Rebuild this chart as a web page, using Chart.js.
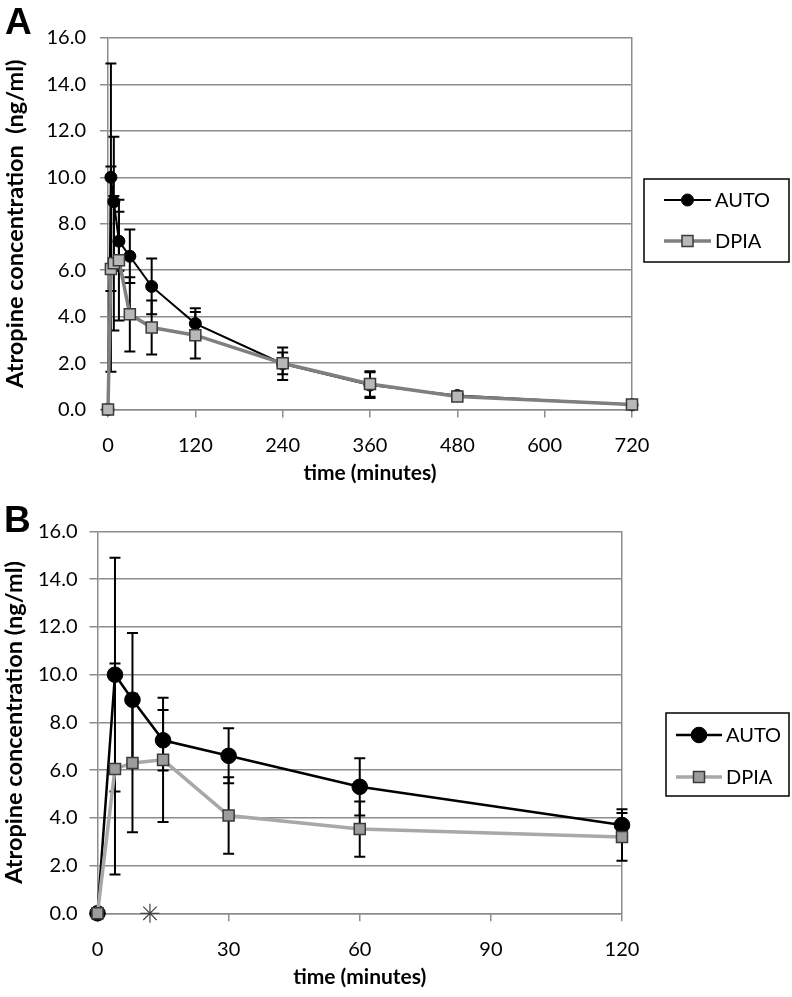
<!DOCTYPE html>
<html>
<head>
<meta charset="utf-8">
<script src="https://cdn.jsdelivr.net/npm/chart.js@4.4.0/dist/chart.umd.min.js"></script>
<style>
html,body{margin:0;padding:0;background:#fff;width:792px;height:997px;overflow:hidden;}
.panel{position:absolute;left:0;width:792px;}
#wrapA{top:0;height:497px;}
#wrapB{top:497px;height:500px;}
.letter{position:absolute;font-family:"Liberation Sans",Arial,sans-serif;font-weight:bold;font-size:37px;line-height:1;color:#000;}
</style>
</head>
<body>
<div class="panel" id="wrapA"><canvas id="chartA" width="792" height="497"></canvas></div>
<div class="panel" id="wrapB"><canvas id="chartB" width="792" height="500"></canvas></div>
<div class="letter" style="left:5px;top:3px">A</div>
<div class="letter" style="left:4px;top:501px">B</div>
<script>
// ---- data ----
const timeMin  = [0, 4, 8, 15, 30, 60, 120, 240, 360, 480, 720];
const autoConc = [0, 10.0, 8.95, 7.25, 6.6, 5.3, 3.7, 1.97, 1.05, 0.6, 0.2];
const autoSD   = [0, 4.9, 2.8, 1.27, 1.15, 1.2, 0.66, 0.7, 0.55, 0.12, 0.05];
const dpiaConc = [0, 6.05, 6.3, 6.43, 4.1, 3.53, 3.2, 1.99, 1.1, 0.56, 0.22];
const dpiaSD   = [0, 4.42, 2.9, 2.6, 1.6, 1.16, 1.0, 0.47, 0.55, 0.1, 0.05];
const sigTime  = [12];
const sigConc  = [0];
const yTicks   = [0, 2, 4, 6, 8, 10, 12, 14, 16];
const xTicksA  = [0, 120, 240, 360, 480, 600, 720];
const xTicksB  = [0, 30, 60, 90, 120];
const seriesNames = ['AUTO', 'DPIA'];
const yTitleA = 'Atropine concentration  (ng/ml)';
const yTitleB = 'Atropine concentration (ng/ml)';
const xTitle  = 'time (minutes)';

const FONT = 'Lato, "Open Sans", sans-serif';
const GRID = '#8c8c8c';

function pts(xs, ys, maxX) {
  const out = [];
  xs.forEach((x, i) => { if (x <= maxX) out.push({x: x, y: ys[i]}); });
  return out;
}
function errs(xs, es, maxX) {
  return es.filter((e, i) => xs[i] <= maxX);
}

const errorBars = {
  id: 'errorBars',
  beforeDatasetsDraw(chart) {
    const ctx = chart.ctx, xs = chart.scales.x, ys = chart.scales.y;
    ctx.save();
    ctx.strokeStyle = '#000';
    ctx.lineWidth = 2;
    chart.data.datasets.forEach(ds => {
      if (!ds.errors) return;
      ds.data.forEach((p, j) => {
        const e = ds.errors[j];
        if (!e) return;
        const px = xs.getPixelForValue(p.x);
        const yt = ys.getPixelForValue(p.y + e);
        const yb = ys.getPixelForValue(Math.max(p.y - e, 0));
        const c = 5.5;
        ctx.beginPath();
        ctx.moveTo(px, yt); ctx.lineTo(px, yb);
        ctx.moveTo(px - c, yt); ctx.lineTo(px + c, yt);
        ctx.moveTo(px - c, yb); ctx.lineTo(px + c, yb);
        ctx.stroke();
      });
    });
    ctx.restore();
  }
};

const boxLegend = {
  id: 'boxLegend',
  afterDraw(chart, args, opts) {
    const ctx = chart.ctx;
    ctx.save();
    ctx.strokeStyle = '#000';
    ctx.lineWidth = 1.5;
    ctx.strokeRect(opts.x, opts.y, opts.w, opts.h);
    const list = chart.data.datasets.filter(d => d.inLegend).sort((a, b) => a.legendIndex - b.legendIndex);
    list.forEach((ds, i) => {
      const cy = opts.rowY[i];
      ctx.strokeStyle = ds.borderColor;
      ctx.lineWidth = ds.borderWidth;
      ctx.beginPath();
      ctx.moveTo(opts.lineX0, cy); ctx.lineTo(opts.lineX1, cy);
      ctx.stroke();
      const mx = (opts.lineX0 + opts.lineX1) / 2;
      ctx.fillStyle = ds.pointBackgroundColor;
      ctx.strokeStyle = ds.pointBorderColor;
      ctx.lineWidth = ds.pointBorderWidth;
      ctx.beginPath();
      if (ds.pointStyle === 'rect') {
        const s = Math.SQRT1_2 * ds.pointRadius;
        ctx.rect(mx - s, cy - s, 2 * s, 2 * s);
      } else {
        ctx.arc(mx, cy, ds.pointRadius, 0, Math.PI * 2);
      }
      ctx.fill(); ctx.stroke();
      ctx.fillStyle = '#000';
      ctx.font = '20px ' + FONT;
      ctx.textAlign = 'left';
      ctx.textBaseline = 'middle';
      ctx.fillText(ds.label, opts.textX, cy + 1);
    });
    ctx.restore();
  }
};

function makeChart(id, cfg) {
  const maxX = cfg.xTicks[cfg.xTicks.length - 1];
  const datasets = [
    {
      label: seriesNames[0], inLegend: true, legendIndex: 0, order: 1,
      data: pts(timeMin, autoConc, maxX), errors: errs(timeMin, autoSD, maxX),
      borderColor: '#000', borderWidth: cfg.autoLW, backgroundColor: '#000',
      pointStyle: 'circle', pointRadius: cfg.circR, pointBackgroundColor: '#000',
      pointBorderColor: '#000', pointBorderWidth: 1, clip: false, tension: 0
    },
    {
      label: seriesNames[1], inLegend: true, legendIndex: 1, order: 0,
      data: pts(timeMin, dpiaConc, maxX), errors: errs(timeMin, dpiaSD, maxX),
      borderColor: cfg.dpiaLine, borderWidth: 3.5, backgroundColor: cfg.dpiaFill,
      pointStyle: 'rect', pointRadius: 7.8, pointBackgroundColor: cfg.dpiaFill,
      pointBorderColor: '#3a3a3a', pointBorderWidth: 1.5, clip: false, tension: 0
    }
  ];
  if (cfg.sig) {
    datasets.push({
      label: 'p<0.05', inLegend: false, order: 2, type: 'scatter',
      data: sigTime.map((t, i) => ({x: t, y: sigConc[i]})),
      pointStyle: 'star', pointRadius: 9.5, borderColor: '#444', pointBorderColor: '#444',
      borderWidth: 1.2, pointBorderWidth: 1.2, showLine: false, clip: false
    });
  }
  const H = cfg.height;
  return new Chart(document.getElementById(id), {
    type: 'line',
    data: { datasets: datasets },
    plugins: [errorBars, boxLegend],
    options: {
      responsive: false, animation: false, devicePixelRatio: 1,
      events: [],
      layout: { padding: { top: cfg.area.top, right: 792 - cfg.area.right, left: 0, bottom: 0 } },
      plugins: {
        legend: { display: false }, tooltip: { enabled: false },
        boxLegend: cfg.legend
      },
      scales: {
        x: {
          type: 'linear', position: 'bottom', min: 0, max: maxX,
          afterBuildTicks: s => { s.ticks = cfg.xTicks.map(v => ({value: v})); },
          afterFit: s => { s.height = H - cfg.area.bottom; },
          grid: { drawOnChartArea: false, drawTicks: true, tickLength: 8, color: GRID, lineWidth: 1.5 },
          border: { display: true, color: GRID, width: 1.5 },
          ticks: { autoSkip: false, maxRotation: 0, color: '#000', padding: cfg.xTickPad,
                   font: { family: FONT, size: 20 } },
          title: { display: true, text: xTitle, color: '#000',
                   font: { family: FONT, size: 21, weight: 'bold' },
                   padding: { top: 0, bottom: cfg.xTitlePad } }
        },
        y: {
          type: 'linear', position: 'left', min: 0, max: 16,
          afterBuildTicks: s => { s.ticks = yTicks.map(v => ({value: v})); },
          afterFit: s => { s.width = cfg.area.left; },
          grid: { drawTicks: true, tickLength: 8, color: GRID, lineWidth: 1.5 },
          border: { display: true, color: GRID, width: 1.5 },
          ticks: { color: '#000', padding: cfg.yTickPad, font: { family: FONT, size: 20 },
                   callback: v => Number(v).toFixed(1) },
          title: { display: true, text: cfg.yTitle, color: '#000',
                   font: { family: FONT, size: 23.5, weight: 'bold' },
                   padding: { top: cfg.yTitlePad, bottom: 0 } }
        },
        yR: {
          type: 'linear', position: 'right', min: 0, max: 16,
          afterFit: s => { s.width = 0; },
          grid: { drawOnChartArea: false, drawTicks: false },
          border: { display: true, color: GRID, width: 1.5 },
          ticks: { display: false }
        }
      }
    }
  });
}

makeChart('chartA', {
  height: 497, xTicks: xTicksA, yTitle: yTitleA,
  area: { left: 108, right: 632, top: 38, bottom: 409.5 },
  xTickPad: 16.5, xTitlePad: 11, yTickPad: 14, yTitlePad: 1,
  autoLW: 2, circR: 6, dpiaLine: '#7f7f7f', dpiaFill: '#b8b8b8', sig: false,
  legend: { x: 644, y: 179, w: 145, h: 83, rowY: [200, 241], lineX0: 664, lineX1: 711, textX: 715 }
});

makeChart('chartB', {
  height: 500, xTicks: xTicksB, yTitle: yTitleB,
  area: { left: 97.5, right: 622, top: 34.5, bottom: 416.3 },
  xTickPad: 16.2, xTitlePad: 7.4, yTickPad: 12, yTitlePad: 0,
  autoLW: 2.5, circR: 7.8, dpiaLine: '#a8a8a8', dpiaFill: '#9c9c9c', sig: true,
  legend: { x: 666, y: 216, w: 123, h: 83, rowY: [238, 280], lineX0: 676, lineX1: 722, textX: 726 }
});
</script>
</body>
</html>
